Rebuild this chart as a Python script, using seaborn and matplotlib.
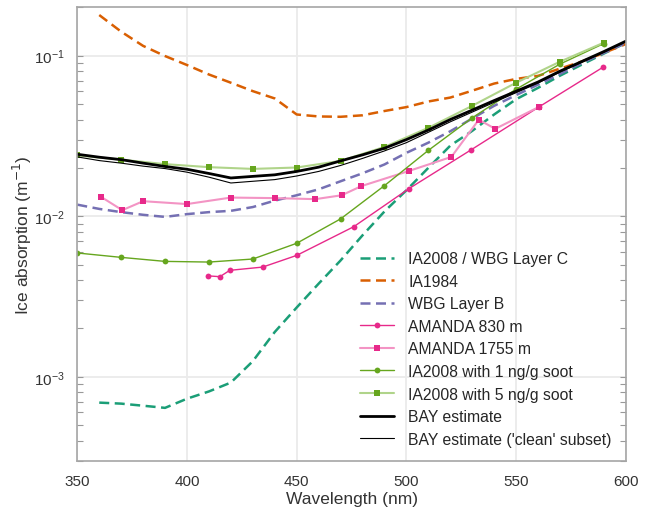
import numpy as np
import pandas as pd
import matplotlib
matplotlib.use("Agg")
import matplotlib.pyplot as plt
import seaborn as sns

# ---- data ----
wl_10 = [360, 370, 380, 390, 400, 410, 420, 430, 440, 450, 460, 470, 480,
         490, 500, 510, 520, 530, 540, 550, 560, 570, 580, 590, 600]
ia2008 = [0.00069, 0.00068, 0.00066, 0.00064, 0.00073, 0.00081, 0.00092, 0.00125,
          0.0019, 0.0027, 0.0038, 0.0053, 0.0076, 0.0107, 0.0145, 0.0200, 0.0275,
          0.0340, 0.0430, 0.0535, 0.0630, 0.0750, 0.0880, 0.1030, 0.1200]
ia1984 = [0.179, 0.141, 0.115, 0.0994, 0.0874, 0.0763, 0.0678, 0.0601, 0.0541,
          0.0430, 0.0418, 0.0416, 0.0425, 0.0452, 0.0478, 0.0518, 0.0548, 0.0605,
          0.0670, 0.0716, 0.0748, 0.0830, 0.0920, 0.1040, 0.1180]

wl_bay = [350, 360, 370, 380, 390, 400, 410, 420, 430, 440, 450, 460, 470, 480,
          490, 500, 510, 520, 530, 540, 550, 560, 570, 580, 590, 600]
wbg_b = [0.0118, 0.0111, 0.0106, 0.0102, 0.0099, 0.0103, 0.0106, 0.0108, 0.0114,
         0.0125, 0.0135, 0.0147, 0.0165, 0.0185, 0.0210, 0.0248, 0.0287, 0.0338,
         0.0406, 0.0487, 0.0568, 0.0660, 0.0770, 0.0900, 0.1040, 0.1200]
bay = [0.0243, 0.0233, 0.0225, 0.0214, 0.0204, 0.0196, 0.01845, 0.0173, 0.0177,
       0.0181, 0.0190, 0.0202, 0.0221, 0.0241, 0.0265, 0.0300, 0.0344, 0.0400,
       0.0458, 0.0525, 0.0600, 0.0685, 0.0800, 0.0920, 0.1060, 0.1230]
bay_clean = [0.0234, 0.0222, 0.0214, 0.0205, 0.0198, 0.0188, 0.0175, 0.0161,
             0.0165, 0.0169, 0.0178, 0.0190, 0.0207, 0.0229, 0.0255, 0.0287,
             0.0333, 0.0387, 0.0445, 0.0512, 0.0588, 0.0675, 0.0790, 0.0910,
             0.1050, 0.1220]

wl_am830 = [409.5, 415, 419.5, 434.5, 450, 476, 501, 529.5, 560.5, 589.5]
am830 = [0.00425, 0.0042, 0.0046, 0.00482, 0.0057, 0.0086, 0.0148, 0.0259, 0.048, 0.0845]
wl_am1755 = [361, 370.5, 380, 400, 420, 440, 458.5, 470.5, 479.5, 501, 520.5,
             533, 540.5, 560.5]
am1755 = [0.01315, 0.0109, 0.0124, 0.0119, 0.01306, 0.01296, 0.01277, 0.0135,
          0.0154, 0.0191, 0.0234, 0.0399, 0.0350, 0.0480]

wl_soot = [350, 370, 390, 410, 430, 450, 470, 490, 510, 530, 550, 570, 590]
soot1 = [0.0059, 0.00554, 0.00523, 0.00518, 0.00541, 0.00678, 0.00962, 0.0155,
         0.0257, 0.0410, 0.0618, 0.0886, 0.1190]
soot5 = [0.0239, 0.0225, 0.0211, 0.0202, 0.0197, 0.0201, 0.0221, 0.0270, 0.0355,
         0.0487, 0.0678, 0.0917, 0.1205]

labels = ["IA2008 / WBG Layer C", "IA1984", "WBG Layer B", "AMANDA 830 m",
          "AMANDA 1755 m", "IA2008 with 1 ng/g soot", "IA2008 with 5 ng/g soot",
          "BAY estimate", "BAY estimate ('clean' subset)"]

# ---- style ----
sns.set_theme(style="whitegrid")
plt.rcParams['font.family'] = ['Liberation Sans', 'DejaVu Sans']
plt.rcParams['axes.edgecolor'] = '0.65'
plt.rcParams['grid.color'] = '#ebebeb'

fig = plt.figure(figsize=(6.49, 5.10), dpi=100)
ax = fig.add_axes([77.3 / 649, 1 - 461.7 / 510, (625.8 - 77.3) / 649, (461.7 - 8.3) / 510])

teal, orange, purple, pink, green = "#1b9e77", "#d95f02", "#7570b3", "#e7298a", "#66a61e"
light_pink = "#f394c4"
light_green = "#b0d48a"
dash = (0, (4, 2.2))

sns.lineplot(x=wl_10, y=ia2008, ax=ax, color=teal, lw=1.8, label=labels[0], linestyle=dash)
sns.lineplot(x=wl_10, y=ia1984, ax=ax, color=orange, lw=1.8, label=labels[1], linestyle=dash)
sns.lineplot(x=wl_bay, y=wbg_b, ax=ax, color=purple, lw=1.8, label=labels[2], linestyle=dash)
sns.lineplot(x=wl_am830, y=am830, ax=ax, color=pink, lw=1.0, marker='o',
             markersize=4.2, markeredgewidth=0, markerfacecolor=pink, label=labels[3])
sns.lineplot(x=wl_am1755, y=am1755, ax=ax, color=light_pink, lw=1.5, marker='s',
             markersize=5, markeredgewidth=0, markerfacecolor=pink, label=labels[4])
sns.lineplot(x=wl_soot, y=soot1, ax=ax, color=green, lw=1.0, marker='o',
             markersize=4.2, markeredgewidth=0, markerfacecolor=green, label=labels[5])
sns.lineplot(x=wl_soot, y=soot5, ax=ax, color=light_green, lw=1.5, marker='s',
             markersize=5, markeredgewidth=0, markerfacecolor=green, label=labels[6])
sns.lineplot(x=wl_bay, y=bay, ax=ax, color='black', lw=2.0, label=labels[7])
sns.lineplot(x=wl_bay, y=bay_clean, ax=ax, color='black', lw=0.8, label=labels[8])

ax.set_yscale('log')
ax.set_xlim(350, 600)
ax.set_ylim(3e-4, 0.2)
ax.set_xticks([350, 400, 450, 500, 550, 600])
ax.grid(True, which='major', lw=1.3)
ax.grid(False, which='minor')
ax.tick_params(axis='x', which='both', bottom=False, top=False, labelsize=11, pad=3.5,
               labelcolor='0.2')
ax.tick_params(axis='y', which='both', left=True, right=True, direction='in',
               length=4, width=0.8, color='0.6', labelsize=11, labelcolor='0.2')
ax.tick_params(axis='y', which='major', pad=9)
for s in ax.spines.values():
    s.set_color('0.65')
    s.set_linewidth(1.2)

ax.set_xlabel("Wavelength (nm)", fontsize=12.5, color='0.2', labelpad=2)
ax.set_ylabel("Ice absorption (m$^{-1}$)", fontsize=12.5, color='0.2', labelpad=0)

leg = ax.legend(loc='lower right', frameon=False, fontsize=11.3, handlelength=2.2,
                labelspacing=0.48, borderaxespad=0.5, handletextpad=0.9)
for t in leg.get_texts():
    t.set_color('0.15')

fig.savefig("out.png", dpi=100)
